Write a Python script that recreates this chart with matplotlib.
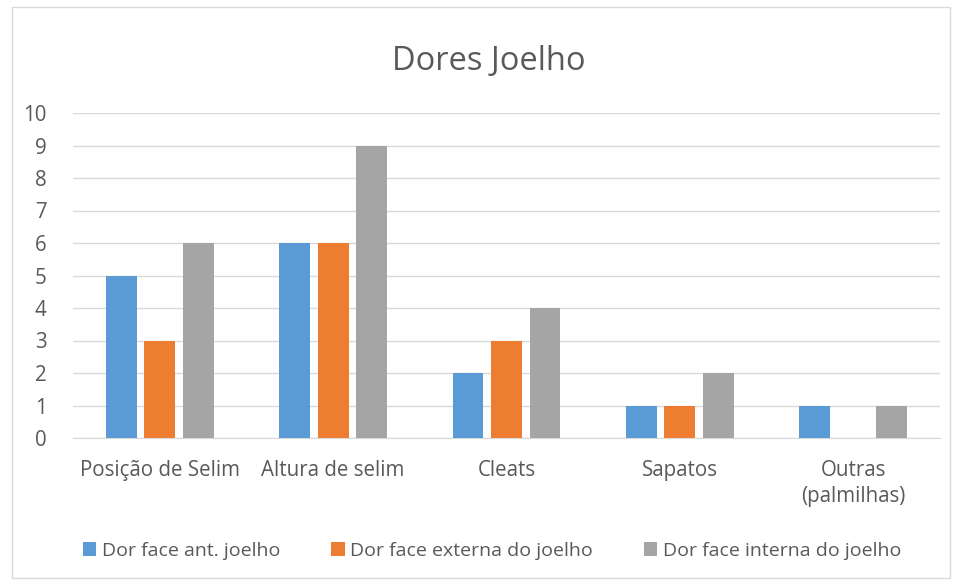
import matplotlib.pyplot as plt
from matplotlib.patches import Rectangle
import numpy as np

plt.rcParams['font.family'] = ['Open Sans', 'DejaVu Sans']

categorias = ['Posição de Selim', 'Altura de selim', 'Cleats', 'Sapatos', 'Outras\n(palmilhas)']
series = ['Dor face ant. joelho', 'Dor face externa do joelho', 'Dor face interna do joelho']
ant = [5, 6, 2, 1, 1]
externa = [3, 6, 3, 1, 0]
interna = [6, 9, 4, 2, 1]
cores = ['#5B9BD5', '#ED7D31', '#A5A5A5']

fig = plt.figure(figsize=(9.55, 5.85), dpi=100)
ax = fig.add_axes([73/955, 1 - 438/585, 867/955, 325/585])

x = np.arange(len(categorias))
w = 0.178
off = 0.222
for i, (vals, nome) in enumerate(zip([ant, externa, interna], series)):
    ax.bar(x + (i - 1) * off, vals, w, color=cores[i], label=nome, zorder=3)

ax.set_xlim(-0.5, len(categorias) - 0.5)
ax.set_ylim(0, 10)
ax.set_yticks(range(0, 11))
ax.yaxis.grid(True, color='#D9D9D9', linewidth=1, zorder=0)
ax.set_xticks(x)
ax.set_xticklabels(categorias, linespacing=1.3)
ax.tick_params(axis='both', length=0, labelsize=14.8, colors='#595959')
ax.tick_params(axis='y', pad=19)
ax.tick_params(axis='x', pad=16)
for s in ['top', 'right', 'left']:
    ax.spines[s].set_visible(False)
ax.spines['bottom'].set_color('#D9D9D9')

fig.text(489/955, 1 - 61/585, 'Dores Joelho', ha='center', va='center', fontsize=23.5, color='#595959')

leg = fig.legend(loc='center', bbox_to_anchor=(492/955, 1 - 551/585), ncol=3, frameon=False,
                 fontsize=14, handlelength=0.7, handleheight=0.7, handletextpad=0.3, columnspacing=2.6)
for t in leg.get_texts():
    t.set_color('#595959')

fig.patches.append(Rectangle((12/955, 7/585), 938/955, 571/585, transform=fig.transFigure,
                             fill=False, edgecolor='#D9D9D9', linewidth=1))

fig.savefig('out.png', dpi=100)
